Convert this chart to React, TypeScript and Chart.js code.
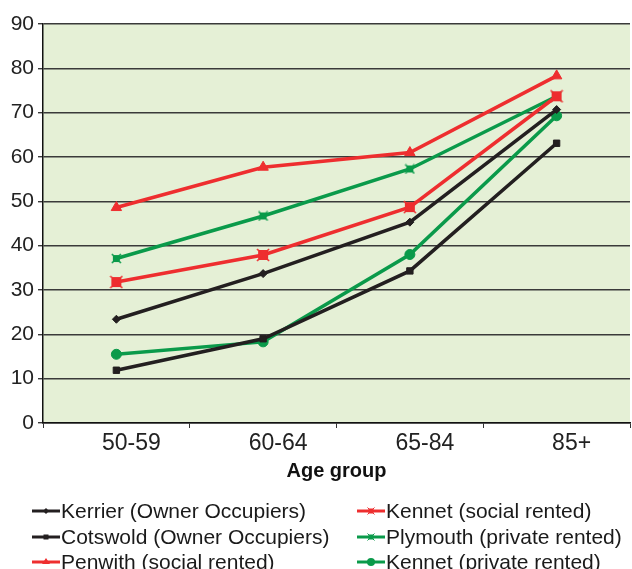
import React, { useEffect, useRef } from 'react';
import { Chart, registerables } from 'chart.js';

Chart.register(...registerables);

const categories = ['50-59', '60-64', '65-84', '85+'];
const kerrier = [23.4, 33.7, 45.3, 70.7];
const cotswold = [11.9, 19.0, 34.3, 63.1];
const penwith = [48.6, 57.7, 61.0, 78.3];
const kennetSocial = [31.8, 37.9, 48.7, 73.7];
const plymouth = [37.1, 46.7, 57.3, 73.7];
const kennetPrivate = [15.5, 18.3, 38.0, 69.3];
const yMin = 0;
const yMax = 90;
const yStep = 10;
const xTitle = 'Age group';

const BLACK = '#231F20';
const RED = '#EE2E2F';
const GREEN = '#0A9A4A';
const FONT = "'Liberation Sans', Arial, Helvetica, sans-serif";

type SeriesDef = {
  label: string;
  data: number[];
  color: string;
  style: string;
  radius: number;
};

const series: SeriesDef[] = [
  { label: 'Kerrier (Owner Occupiers)', data: kerrier, color: BLACK, style: 'rectRot', radius: 4 },
  { label: 'Cotswold (Owner Occupiers)', data: cotswold, color: BLACK, style: 'rect', radius: 4.5 },
  { label: 'Penwith (social rented)', data: penwith, color: RED, style: 'triangle', radius: 6 },
  { label: 'Kennet (social rented)', data: kennetSocial, color: RED, style: 'xsquare', radius: 6 },
  { label: 'Plymouth (private rented)', data: plymouth, color: GREEN, style: 'xsquareSmall', radius: 5 },
  { label: 'Kennet (private rented)', data: kennetPrivate, color: GREEN, style: 'circle', radius: 5 },
];

const legendColumns = [
  [0, 1, 2],
  [3, 4, 5],
];

function makeXSquare(color: string, size: number, sq: number): HTMLCanvasElement {
  const c = document.createElement('canvas');
  c.width = size;
  c.height = size;
  const ctx = c.getContext('2d')!;
  const m = size / 2;
  ctx.fillStyle = color;
  ctx.fillRect(m - sq / 2, m - sq / 2, sq, sq);
  ctx.strokeStyle = color;
  ctx.lineWidth = 1.6;
  ctx.beginPath();
  ctx.moveTo(1, 1);
  ctx.lineTo(size - 1, size - 1);
  ctx.moveTo(size - 1, 1);
  ctx.lineTo(1, size - 1);
  ctx.stroke();
  return c;
}

const bgPlugin = {
  id: 'plotBg',
  beforeDraw(chart: any) {
    const { ctx, chartArea } = chart;
    if (!chartArea) return;
    ctx.save();
    ctx.fillStyle = '#E5F0D6';
    ctx.fillRect(chartArea.left, chartArea.top, chartArea.right - chartArea.left, chartArea.bottom - chartArea.top);
    ctx.restore();
  },
};

function Marker({ s }: { s: SeriesDef }) {
  const c = s.color;
  const cx = 14;
  const cy = 6;
  let shape: React.ReactNode = null;
  if (s.style === 'rectRot') {
    shape = <polygon points={`${cx},${cy - 3} ${cx + 3},${cy} ${cx},${cy + 3} ${cx - 3},${cy}`} fill={c} />;
  } else if (s.style === 'rect') {
    shape = <rect x={cx - 2.5} y={cy - 2.5} width={5} height={5} fill={c} />;
  } else if (s.style === 'xsquare' || s.style === 'xsquareSmall') {
    shape = (
      <g>
        <rect x={cx - 2.5} y={cy - 2.5} width={5} height={5} fill={c} />
        <g stroke={c} strokeWidth={1}>
          <line x1={cx - 3.5} y1={cy - 3.5} x2={cx + 3.5} y2={cy + 3.5} />
          <line x1={cx - 3.5} y1={cy + 3.5} x2={cx + 3.5} y2={cy - 3.5} />
        </g>
      </g>
    );
  } else if (s.style === 'triangle') {
    shape = <polygon points={`${cx},${cy - 4} ${cx + 4},${cy + 2} ${cx - 4},${cy + 2}`} fill={c} />;
  } else {
    shape = <circle cx={cx} cy={cy} r={4} fill={c} />;
  }
  return (
    <svg width={28} height={12} style={{ display: 'block' }}>
      <line x1={0} y1={cy} x2={28} y2={cy} stroke={c} strokeWidth={3} />
      {shape}
    </svg>
  );
}

export default function App() {
  const canvasRef = useRef<HTMLCanvasElement | null>(null);

  useEffect(() => {
    if (!canvasRef.current) return;
    const styleFor = (s: SeriesDef): any => {
      if (s.style === 'xsquare') return makeXSquare(s.color, 14, 10);
      if (s.style === 'xsquareSmall') return makeXSquare(s.color, 11, 7);
      return s.style;
    };
    const chart = new Chart(canvasRef.current, {
      type: 'line',
      data: {
        labels: categories,
        datasets: series.map((s) => ({
          label: s.label,
          data: s.data,
          borderColor: s.color,
          backgroundColor: s.color,
          pointBackgroundColor: s.color,
          pointBorderColor: s.color,
          pointStyle: styleFor(s),
          pointRadius: s.radius,
          pointBorderWidth: 1,
          borderWidth: 3.5,
          tension: 0,
          fill: false,
        })),
      },
      options: {
        animation: false,
        responsive: false,
        devicePixelRatio: 1,
        layout: { autoPadding: false, padding: { top: 24, right: 2, bottom: 86, left: 0 } },
        plugins: {
          legend: { display: false },
          tooltip: { enabled: false },
        },
        scales: {
          x: {
            type: 'category',
            offset: true,
            grid: {
              display: true,
              drawOnChartArea: false,
              drawTicks: true,
              tickLength: 5,
              offset: true,
              color: '#333',
              lineWidth: 1,
            },
            border: { display: true, color: '#111', width: 1.5 },
            ticks: {
              color: '#222',
              font: { family: FONT, size: 23 },
              padding: 2,
              labelOffset: 15,
            },
            title: {
              display: true,
              text: xTitle,
              color: '#111',
              font: { family: FONT, size: 20, weight: 'bold' },
              padding: 0,
            },
            afterFit(scale: any) {
              scale.height = 60;
              scale.paddingLeft = 0;
              scale.paddingRight = 0;
            },
          },
          y: {
            min: yMin,
            max: yMax,
            ticks: {
              stepSize: yStep,
              color: '#222',
              font: { family: FONT, size: 21 },
              padding: 4,
            },
            grid: {
              color: '#3a3a3a',
              lineWidth: 1.4,
              tickLength: 5,
            },
            border: { display: true, color: '#111', width: 1.5 },
            afterFit(scale: any) {
              scale.width = 43;
            },
          },
        },
      },
      plugins: [bgPlugin],
    } as any);
    return () => chart.destroy();
  }, []);

  return (
    <div style={{ position: 'absolute', left: 0, top: 0, width: 632, height: 569, background: '#fff', overflow: 'hidden' }}>
      <canvas ref={canvasRef} width={632} height={569} style={{ width: 632, height: 569, display: 'block' }} />
      {legendColumns.map((col, ci) =>
        col.map((idx, ri) => {
          const s = series[idx];
          return (
            <div
              key={s.label}
              style={{
                position: 'absolute',
                left: ci === 0 ? 32 : 357,
                top: 511 + ri * 25.5 - 13,
                height: 26,
                display: 'flex',
                alignItems: 'center',
                fontFamily: FONT,
                fontSize: 21,
                color: '#1a1a1a',
                whiteSpace: 'nowrap',
                lineHeight: '26px',
              }}
            >
              <Marker s={s} />
              <span style={{ marginLeft: 1 }}>{s.label}</span>
            </div>
          );
        })
      )}
    </div>
  );
}
